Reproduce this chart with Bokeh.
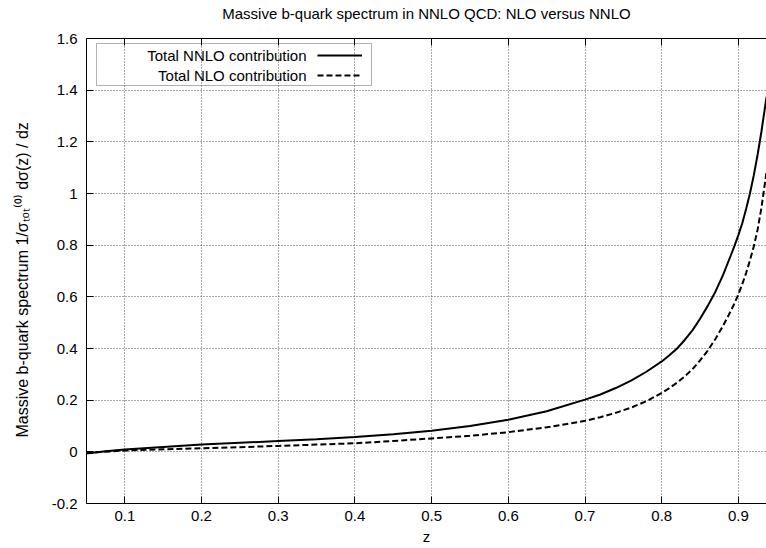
from bokeh.plotting import figure
from bokeh.models import (Range1d, FixedTicker, LinearAxis, Label, BoxAnnotation,
                          Legend, LegendItem, CustomJSTickFormatter)
from bokeh.embed import file_html
from bokeh.resources import INLINE

# ---- data ----
z_nnlo = [0.05, 0.075, 0.1, 0.15, 0.2, 0.25, 0.3, 0.35, 0.4, 0.45, 0.5, 0.55, 0.6,
          0.65, 0.7, 0.72, 0.74, 0.76, 0.78, 0.8, 0.81, 0.82, 0.83, 0.84, 0.85,
          0.86, 0.87, 0.88, 0.89, 0.895, 0.9, 0.905, 0.91, 0.915, 0.92, 0.925,
          0.93, 0.9367]
y_nnlo = [-0.006, 0.002, 0.009, 0.019, 0.028, 0.035, 0.042, 0.049, 0.057, 0.068,
          0.082, 0.100, 0.124, 0.157, 0.202, 0.222, 0.247, 0.276, 0.310, 0.350,
          0.374, 0.400, 0.433, 0.470, 0.515, 0.565, 0.620, 0.685, 0.760, 0.798,
          0.840, 0.885, 0.940, 1.000, 1.070, 1.150, 1.240, 1.375]

z_nlo = [0.05, 0.1, 0.15, 0.2, 0.25, 0.3, 0.35, 0.4, 0.45, 0.5, 0.55, 0.6, 0.65,
         0.7, 0.72, 0.74, 0.76, 0.78, 0.8, 0.81, 0.82, 0.83, 0.84, 0.85, 0.86,
         0.87, 0.88, 0.89, 0.895, 0.9, 0.905, 0.91, 0.915, 0.92, 0.925, 0.93,
         0.9367]
y_nlo = [-0.004, 0.005, 0.010, 0.014, 0.018, 0.023, 0.028, 0.033, 0.042, 0.052,
         0.062, 0.076, 0.095, 0.120, 0.134, 0.151, 0.171, 0.196, 0.228, 0.247,
         0.268, 0.292, 0.320, 0.354, 0.392, 0.437, 0.488, 0.545, 0.576, 0.610,
         0.649, 0.692, 0.741, 0.795, 0.860, 0.945, 1.085]

x_ticks = [0.1, 0.2, 0.3, 0.4, 0.5, 0.6, 0.7, 0.8, 0.9]
y_ticks = [-0.2, 0, 0.2, 0.4, 0.6, 0.8, 1, 1.2, 1.4, 1.6]
y_tick_labels = ["-0.2", "0", "0.2", "0.4", "0.6", "0.8", "1", "1.2", "1.4", "1.6"]

title_text = "Massive b-quark spectrum in NNLO QCD: NLO versus NNLO"
legend_labels = ["Total NNLO contribution", "Total NLO contribution"]
x_label = "z"
y_label = "Massive b-quark spectrum   1/σₜₒₜ⁽⁰⁾   dσ(z) / dz"

FONT = "Liberation Sans"
FS = "15px"

p = figure(width=766, height=548, output_backend="svg", toolbar_location=None,
           x_range=Range1d(0.05, 0.9366), y_range=Range1d(-0.2, 1.6),
           min_border_left=86, min_border_right=0, min_border_top=38,
           min_border_bottom=45, background_fill_color="white",
           border_fill_color="white")
p.outline_line_color = None

for ax in (p.xaxis[0], p.yaxis[0]):
    ax.major_tick_in = 7
    ax.major_tick_out = 0
    ax.minor_tick_line_color = None
    ax.axis_line_color = "black"
    ax.major_tick_line_color = "black"
    ax.major_label_text_font = FONT
    ax.major_label_text_font_size = FS
    ax.major_label_text_color = "black"
    ax.axis_label_text_font = FONT
    ax.axis_label_text_font_size = FS
    ax.axis_label_text_font_style = "normal"
    ax.axis_label_text_color = "black"

p.xaxis.ticker = FixedTicker(ticks=x_ticks)
p.xaxis.major_label_standoff = 7
p.xaxis.axis_label = x_label
p.xaxis.axis_label_standoff = 4

p.yaxis.ticker = FixedTicker(ticks=y_ticks)
p.yaxis.major_label_standoff = 9
p.yaxis.axis_label = y_label
p.yaxis.axis_label_text_font_size = "16px"
p.yaxis.axis_label_standoff = 18
p.yaxis.formatter = CustomJSTickFormatter(
    args=dict(yt=y_ticks, yl=y_tick_labels),
    code="const i = yt.findIndex(t => Math.abs(t - tick) < 1e-9); return i >= 0 ? yl[i] : '';")

# top border with mirrored ticks; the chart title is carried as its label
top = LinearAxis(ticker=FixedTicker(ticks=x_ticks), major_tick_in=7, major_tick_out=0,
                 minor_tick_line_color=None, major_label_text_color=None,
                 major_label_text_font_size="1px", major_label_standoff=0,
                 axis_line_color="black", major_tick_line_color="black",
                 axis_label=title_text, axis_label_text_font=FONT,
                 axis_label_text_font_size=FS, axis_label_text_font_style="normal",
                 axis_label_text_color="black", axis_label_standoff=17)
p.add_layout(top, "above")

p.xgrid.ticker = FixedTicker(ticks=x_ticks)
p.ygrid.ticker = FixedTicker(ticks=y_ticks)
for g in (p.xgrid[0], p.ygrid[0]):
    g.grid_line_color = "#555555"
    g.grid_line_dash = "1 2"
    g.grid_line_width = 1

r1 = p.line(z_nnlo, y_nnlo, line_color="black", line_width=2)
r2 = p.line(z_nlo, y_nlo, line_color="black", line_width=2, line_dash="6 3")

# ---- legend (gnuplot style: text right-aligned, sample on the right) ----
box = BoxAnnotation(left=10, right=285, top=460, bottom=418,
                    left_units="screen", right_units="screen",
                    top_units="screen", bottom_units="screen",
                    fill_alpha=0, line_color="black", line_width=1, level="overlay")
p.add_layout(box)
leg = Legend(items=[LegendItem(label=" ", renderers=[r1]),
                    LegendItem(label=" ", renderers=[r2])],
             location=(231, 418.5), glyph_width=45, glyph_height=20,
             label_width=0, label_height=20, label_standoff=0, padding=0,
             spacing=0, margin=0, border_line_color=None,
             background_fill_alpha=0, label_text_color=None,
             label_text_font_size="1px")
p.add_layout(leg)
for i, t in enumerate(legend_labels):
    p.add_layout(Label(x=220, y=448.5 - 20 * i, x_units="screen", y_units="screen",
                       text=t, text_align="right", text_baseline="middle",
                       text_font=FONT, text_font_size=FS, text_color="black"))

open("out.html", "w").write(file_html(p, INLINE))
